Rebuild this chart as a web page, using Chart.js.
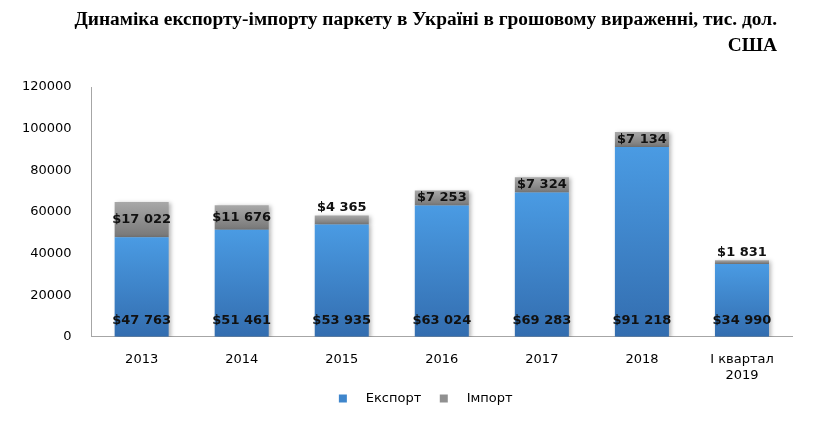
<!DOCTYPE html>
<html>
<head>
<meta charset="utf-8">
<script src="https://cdn.jsdelivr.net/npm/chart.js@4.4.1/dist/chart.umd.min.js"></script>
<style>
  html, body { margin: 0; padding: 0; background: #fff; }
  #wrap { position: relative; width: 817px; height: 433px; }
  #title {
    position: absolute; top: 6px; right: 40px;
    font-family: "Liberation Serif", serif; font-weight: bold; font-size: 19.4px;
    line-height: 26px; text-align: right; color: #000;
  }
</style>
</head>
<body>
<div id="wrap">
  <canvas id="myChart" width="817" height="433"></canvas>
  <div id="title">Динаміка експорту-імпорту паркету в Україні в грошовому вираженні, тис. дол.<br>США</div>
</div>
<script>
const categories = ['2013', '2014', '2015', '2016', '2017', '2018', ['І квартал', '2019']];
const exportValues = [47763, 51461, 53935, 63024, 69283, 91218, 34990];
const importValues = [17022, 11676, 4365, 7253, 7324, 7134, 1831];
const yTicks = [0, 20000, 40000, 60000, 80000, 100000, 120000];

// format like "$47 763"
function money(v) {
  return '$' + String(v).replace(/\B(?=(\d{3})+(?!\d))/g, ' ');
}

// each bar gets its own top-to-bottom gradient
function barGradient(light, dark) {
  return function (context) {
    const chart = context.chart;
    const y = chart.scales.y;
    if (!chart.chartArea || !y || context.dataIndex === undefined) return dark;
    const i = context.dataIndex;
    let lo, hi;
    if (context.datasetIndex === 0) {
      lo = 0; hi = exportValues[i];
    } else {
      lo = exportValues[i]; hi = exportValues[i] + importValues[i];
    }
    const top = y.getPixelForValue(hi);
    const bottom = y.getPixelForValue(lo);
    if (!isFinite(top) || !isFinite(bottom) || top === bottom) return dark;
    const g = chart.ctx.createLinearGradient(0, top, 0, bottom);
    g.addColorStop(0, light);
    g.addColorStop(1, dark);
    return g;
  };
}

const barShadow = {
  id: 'barShadow',
  beforeDatasetsDraw(chart) {
    const ctx = chart.ctx;
    ctx.save();
    ctx.shadowColor = 'rgba(0,0,0,0.28)';
    ctx.shadowBlur = 4;
    ctx.shadowOffsetX = 2;
    ctx.shadowOffsetY = 1;
  },
  afterDatasetsDraw(chart) {
    chart.ctx.restore();
  }
};

// legend in the original sits a bit right of centre
const legendShift = {
  id: 'legendShift',
  afterLayout(chart) {
    chart.legend.left += 33;
    chart.legend.right += 33;
  }
};

const valueLabels = {
  id: 'valueLabels',
  afterDraw(chart) {
    const ctx = chart.ctx;
    ctx.save();
    ctx.font = 'bold 13px "DejaVu Sans"';
    ctx.fillStyle = '#111';
    ctx.textAlign = 'center';
    ctx.textBaseline = 'middle';
    chart.getDatasetMeta(0).data.forEach((bar, i) => {
      ctx.fillText(money(exportValues[i]), bar.x, bar.base - 16);
    });
    chart.getDatasetMeta(1).data.forEach((bar, i) => {
      const h = bar.base - bar.y;
      const ty = h > 12 ? (bar.y + bar.base) / 2 : bar.y - 8;
      ctx.fillText(money(importValues[i]), bar.x, ty);
    });
    ctx.restore();
  }
};

const data = {
  labels: categories,
  datasets: [{
    label: 'Експорт',
    data: exportValues,
    backgroundColor: barGradient('#4a9be3', '#336daf'),
    borderWidth: 0
  }, {
    label: 'Імпорт',
    data: importValues,
    backgroundColor: barGradient('#a8a8a8', '#777777'),
    borderWidth: 0
  }]
};

const config = {
  type: 'bar',
  data,
  options: {
    responsive: false,
    animation: false,
    layout: {
      padding: { top: 87, right: 25, left: 10, bottom: 18 }
    },
    datasets: {
      bar: { barPercentage: 0.54, categoryPercentage: 1 }
    },
    scales: {
      x: {
        stacked: true,
        grid: { display: false },
        border: { display: true, color: '#a6a6a6' },
        ticks: {
          color: '#000',
          font: { family: 'DejaVu Sans', size: 13 },
          maxRotation: 0,
          padding: 7
        }
      },
      y: {
        stacked: true,
        min: 0,
        max: 120000,
        afterBuildTicks(axis) {
          axis.ticks = yTicks.map(v => ({ value: v }));
        },
        grid: { display: false },
        border: { display: true, color: '#a6a6a6' },
        ticks: {
          color: '#000',
          font: { family: 'DejaVu Sans', size: 13 },
          padding: 12,
          callback: v => String(v)
        }
      }
    },
    plugins: {
      legend: {
        position: 'bottom',
        labels: {
          boxWidth: 8,
          boxHeight: 8,
          color: '#000',
          padding: 2,
          font: { family: 'DejaVu Sans', size: 13 },
          generateLabels(chart) {
            const colors = ['#3f86cc', '#909090'];
            return chart.data.datasets.map((ds, i) => ({
              text: '   ' + ds.label + '    ',
              fillStyle: colors[i],
              strokeStyle: colors[i],
              lineWidth: 0,
              datasetIndex: i
            }));
          }
        }
      },
      tooltip: { enabled: false },
      title: { display: false }
    }
  },
  plugins: [barShadow, legendShift, valueLabels]
};

const myChart = new Chart(document.getElementById('myChart'), config);
</script>
</body>
</html>
